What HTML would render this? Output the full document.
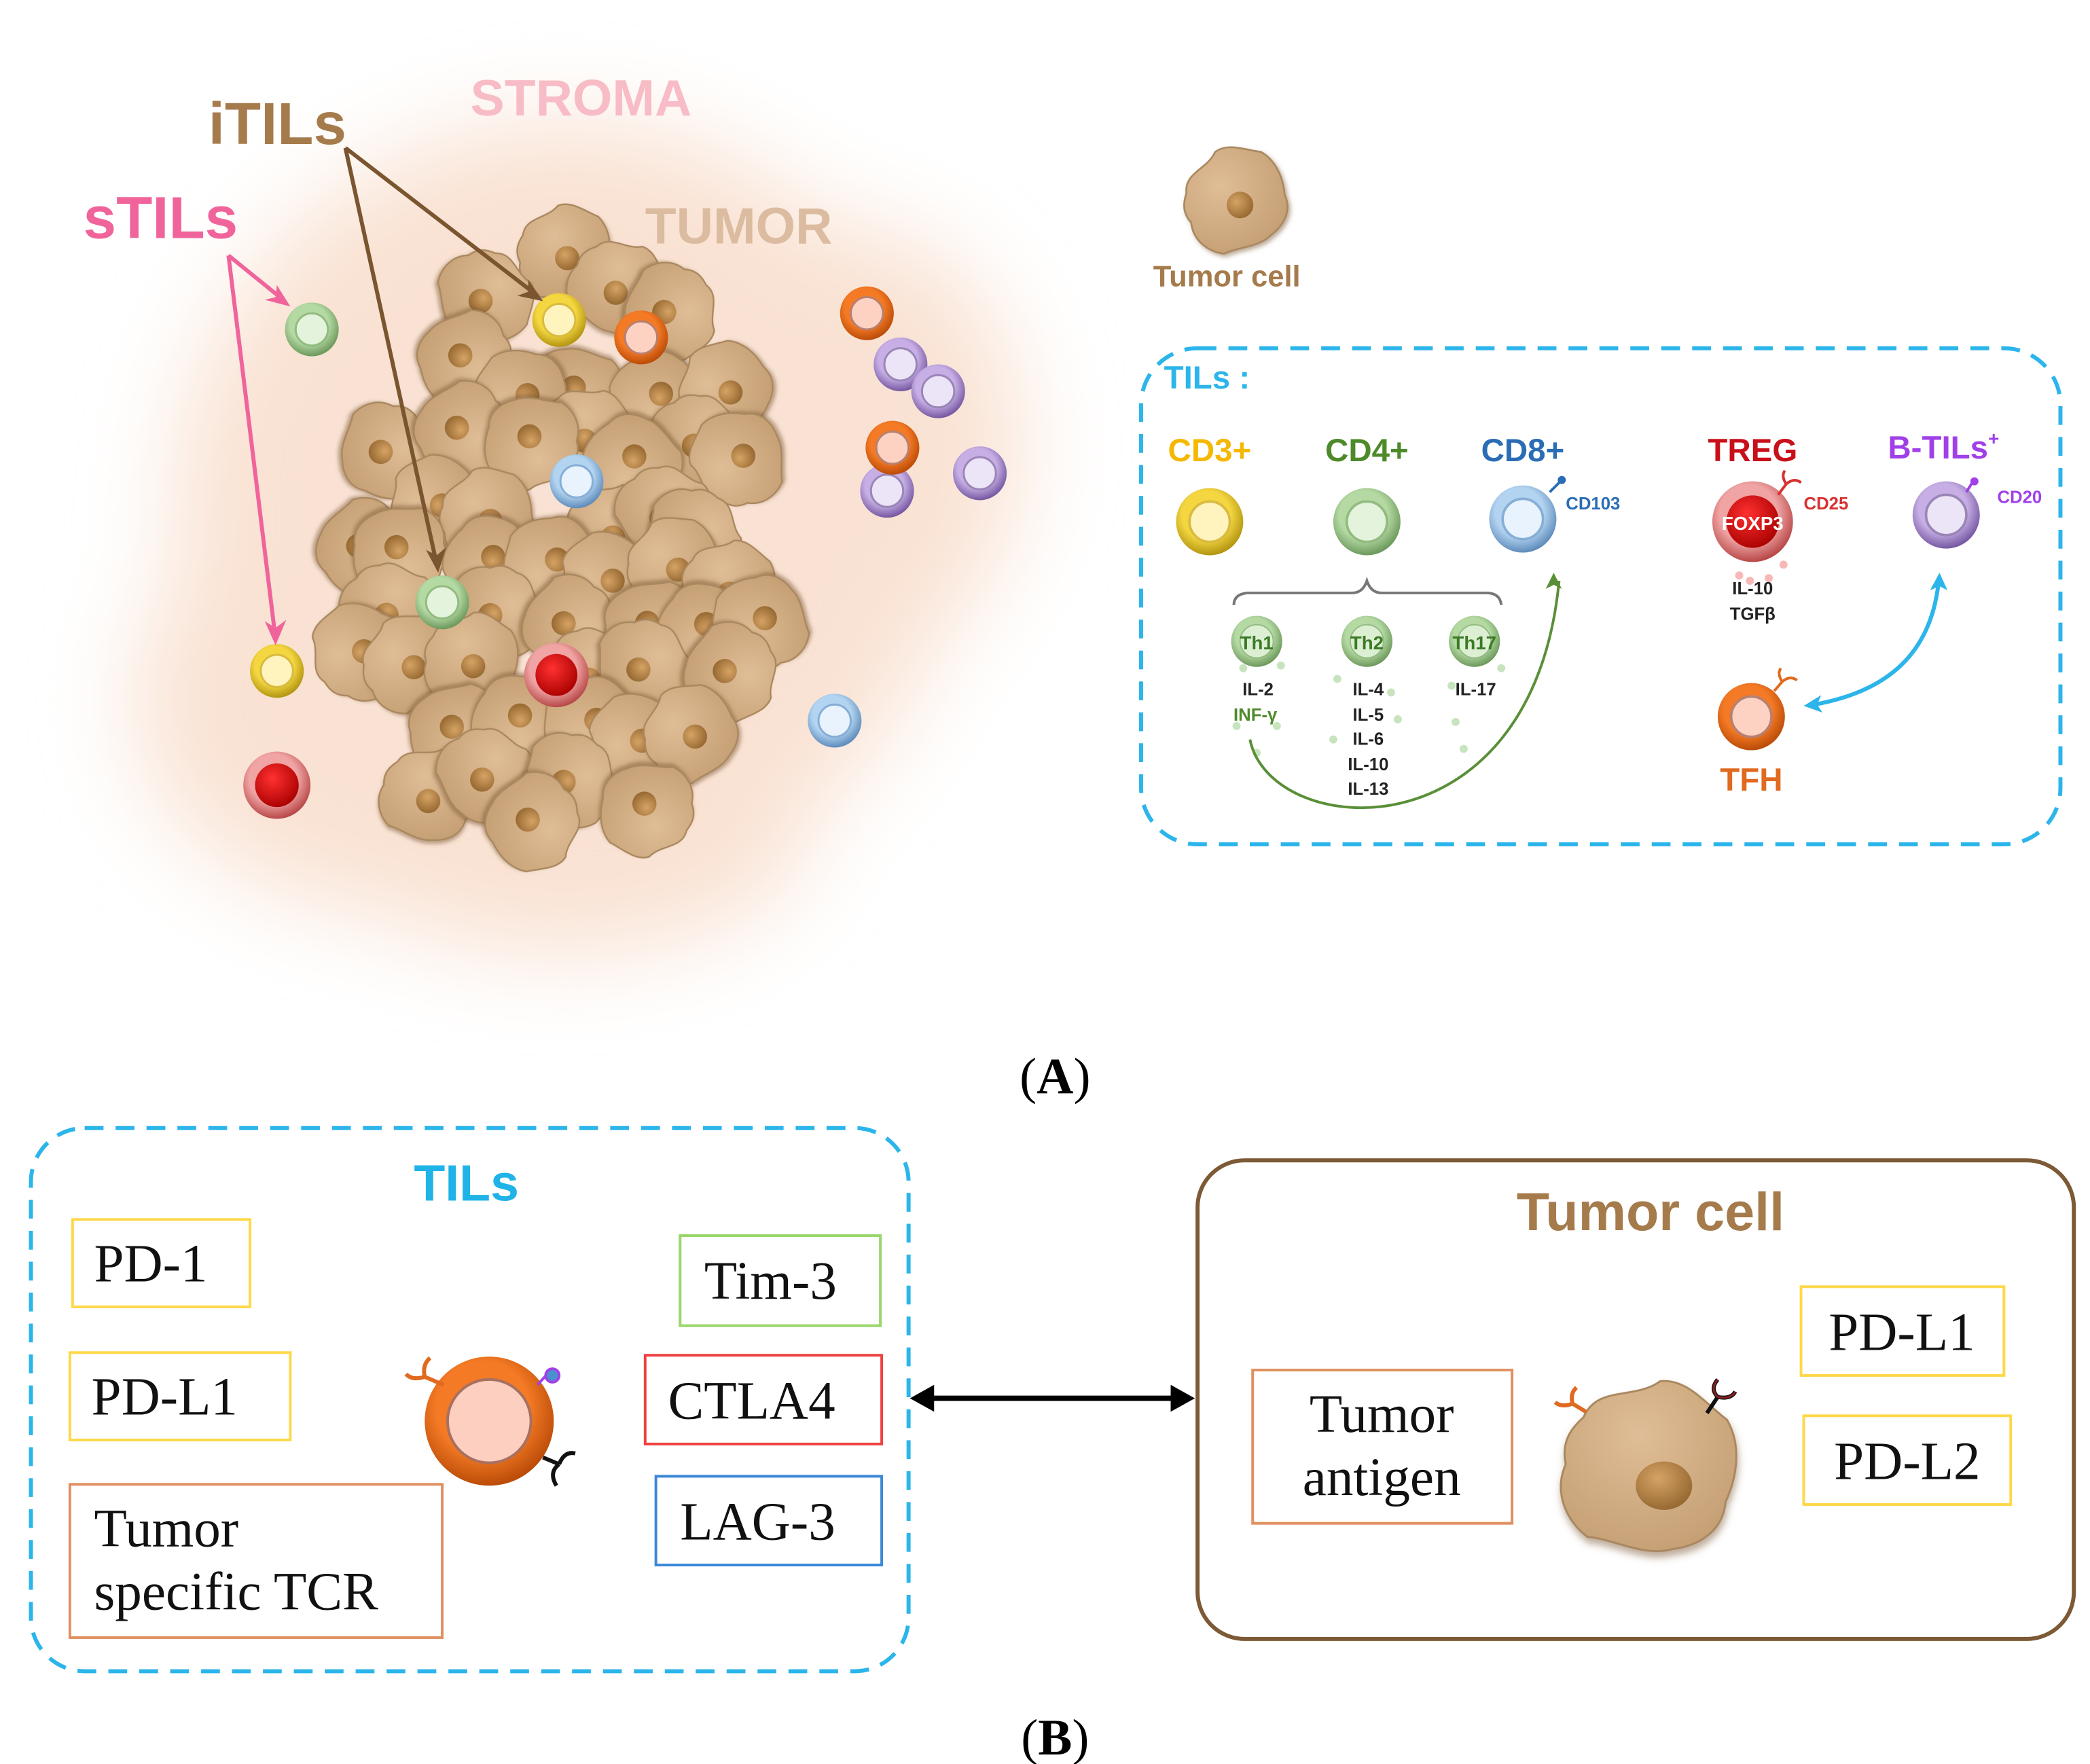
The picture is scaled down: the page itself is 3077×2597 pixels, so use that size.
<!DOCTYPE html>
<html><head><meta charset="utf-8"><style>
html,body{margin:0;padding:0;background:#fff;}
svg{display:block;}
.sans{font-family:"Liberation Sans Narrow","Liberation Sans",sans-serif;font-weight:bold;}
.ser{font-family:"Liberation Serif",serif;}
</style></head><body>
<svg width="3077" height="2597" viewBox="0 0 1555 1312" preserveAspectRatio="none" xmlns="http://www.w3.org/2000/svg">
<defs>
<filter id="blur" x="-50%" y="-50%" width="200%" height="200%"><feGaussianBlur stdDeviation="35"/></filter>
<filter id="sh" x="-30%" y="-30%" width="160%" height="160%"><feDropShadow dx="1" dy="2" stdDeviation="1.5" flood-color="#7a5530" flood-opacity="0.5"/></filter>
<radialGradient id="tc" cx="40%" cy="35%" r="70%"><stop offset="0" stop-color="#dfbd96"/><stop offset="1" stop-color="#c6a075"/></radialGradient>
<radialGradient id="nu" cx="40%" cy="35%" r="70%"><stop offset="0" stop-color="#d6a365"/><stop offset="1" stop-color="#93662f"/></radialGradient>
<radialGradient id="gY" cx="45%" cy="40%" r="60%"><stop offset="0.6" stop-color="#f3d640"/><stop offset="1" stop-color="#b39512"/></radialGradient>
<radialGradient id="gG" cx="45%" cy="40%" r="60%"><stop offset="0.6" stop-color="#b4d9a3"/><stop offset="1" stop-color="#6d995c"/></radialGradient>
<radialGradient id="gB" cx="45%" cy="40%" r="60%"><stop offset="0.6" stop-color="#b3d4f1"/><stop offset="1" stop-color="#5f8cbb"/></radialGradient>
<radialGradient id="gO" cx="45%" cy="40%" r="60%"><stop offset="0.6" stop-color="#f47a25"/><stop offset="1" stop-color="#bb4c08"/></radialGradient>
<radialGradient id="gP" cx="45%" cy="40%" r="60%"><stop offset="0.6" stop-color="#c7afe5"/><stop offset="1" stop-color="#7658a2"/></radialGradient>
<radialGradient id="gR" cx="45%" cy="40%" r="60%"><stop offset="0.6" stop-color="#f0a4a4"/><stop offset="1" stop-color="#b84848"/></radialGradient>
<radialGradient id="gRi" cx="40%" cy="35%" r="70%"><stop offset="0" stop-color="#ff3030"/><stop offset="1" stop-color="#a80000"/></radialGradient>
<g id="tcell" filter="url(#sh)">
<path d="M-30,-12 C-28,-26 -12,-24 -4,-34 C6,-38 16,-30 26,-26 C34,-18 36,-6 34,6 C36,18 28,26 18,30 C8,36 -6,32 -16,34 C-26,30 -34,20 -32,8 C-36,0 -34,-6 -30,-12Z" fill="url(#tc)" stroke="#a9875f" stroke-width="1.2"/>
<circle cx="3" cy="5" r="9" fill="url(#nu)"/>
</g>
<g id="cY"><circle r="20" fill="url(#gY)"/><circle r="12" fill="#fff4bd" stroke="#d8bb40" stroke-width="1.5"/></g>
<g id="cG"><circle r="20" fill="url(#gG)"/><circle r="12" fill="#e4f3dc" stroke="#92bb80" stroke-width="1.5"/></g>
<g id="cB"><circle r="20" fill="url(#gB)"/><circle r="12" fill="#e8f3fd" stroke="#86aed6" stroke-width="1.5"/></g>
<g id="cO"><circle r="20" fill="url(#gO)"/><circle r="12" fill="#fdd2c3" stroke="#b88070" stroke-width="1.5"/></g>
<g id="cP"><circle r="20" fill="url(#gP)"/><circle r="12" fill="#ece4f7" stroke="#9a86b6" stroke-width="1.5"/></g>
<g id="cR"><circle r="20" fill="url(#gR)"/><circle r="13" fill="url(#gRi)"/></g>
</defs>

<g filter="url(#blur)" fill="#f9e2d3">
<ellipse cx="420" cy="380" rx="290" ry="290"/>
<ellipse cx="300" cy="520" rx="200" ry="160"/>
<ellipse cx="640" cy="330" rx="120" ry="160"/>
<ellipse cx="420" cy="620" rx="180" ry="90"/>
</g>

<g>
<use href="#tcell" transform="translate(419,187)"/>
<use href="#tcell" transform="translate(459,212) rotate(40)"/>
<use href="#tcell" transform="translate(362,220) rotate(80)"/>
<use href="#tcell" transform="translate(500,232) rotate(120)"/>
<use href="#tcell" transform="translate(347,268) rotate(160)"/>
<use href="#tcell" transform="translate(428,294) rotate(200)"/>
<use href="#tcell" transform="translate(489,298) rotate(240)"/>
<use href="#tcell" transform="translate(387,296) rotate(280)"/>
<use href="#tcell" transform="translate(538,290) rotate(320)"/>
<use href="#tcell" transform="translate(435,322) rotate(30)"/>
<use href="#tcell" transform="translate(520,327) rotate(70)"/>
<use href="#tcell" transform="translate(289,335) rotate(110)"/>
<use href="#tcell" transform="translate(345,321) rotate(150)"/>
<use href="#tcell" transform="translate(396,330) rotate(190)"/>
<use href="#tcell" transform="translate(470,345) rotate(230)"/>
<use href="#tcell" transform="translate(548,342) rotate(270)"/>
<use href="#tcell" transform="translate(323,375) rotate(310)"/>
<use href="#tcell" transform="translate(361,383) rotate(350)"/>
<use href="#tcell" transform="translate(455,394) rotate(20)"/>
<use href="#tcell" transform="translate(495,380) rotate(60)"/>
<use href="#tcell" transform="translate(517,398) rotate(100)"/>
<use href="#tcell" transform="translate(272,408) rotate(140)"/>
<use href="#tcell" transform="translate(298,412) rotate(180)"/>
<use href="#tcell" transform="translate(366,420) rotate(220)"/>
<use href="#tcell" transform="translate(410,420) rotate(260)"/>
<use href="#tcell" transform="translate(450,432) rotate(300)"/>
<use href="#tcell" transform="translate(500,420) rotate(340)"/>
<use href="#tcell" transform="translate(541,436) rotate(15)"/>
<use href="#tcell" transform="translate(290,452) rotate(55)"/>
<use href="#tcell" transform="translate(370,455) rotate(95)"/>
<use href="#tcell" transform="translate(425,465) rotate(135)"/>
<use href="#tcell" transform="translate(485,468) rotate(175)"/>
<use href="#tcell" transform="translate(525,470) rotate(215)"/>
<use href="#tcell" transform="translate(565,464) rotate(255)"/>
<use href="#tcell" transform="translate(265,485) rotate(295)"/>
<use href="#tcell" transform="translate(303,493) rotate(335)"/>
<use href="#tcell" transform="translate(350,490) rotate(10)"/>
<use href="#tcell" transform="translate(440,500) rotate(50)"/>
<use href="#tcell" transform="translate(480,495) rotate(90)"/>
<use href="#tcell" transform="translate(545,500) rotate(130)"/>
<use href="#tcell" transform="translate(340,545) rotate(170)"/>
<use href="#tcell" transform="translate(387,538) rotate(210)"/>
<use href="#tcell" transform="translate(440,540) rotate(250)"/>
<use href="#tcell" transform="translate(472,552) rotate(290)"/>
<use href="#tcell" transform="translate(512,545) rotate(330)"/>
<use href="#tcell" transform="translate(318,590) rotate(25)"/>
<use href="#tcell" transform="translate(362,575) rotate(65)"/>
<use href="#tcell" transform="translate(425,580) rotate(105)"/>
<use href="#tcell" transform="translate(398,612) rotate(145)"/>
<use href="#tcell" transform="translate(482,603) rotate(185)"/>
</g>

<use href="#cG" transform="translate(232,245)"/>
<use href="#cY" transform="translate(416,238)"/>
<use href="#cO" transform="translate(477,251)"/>
<use href="#cB" transform="translate(429,358)"/>
<use href="#cG" transform="translate(329,448)"/>
<use href="#cR" transform="translate(414,502) scale(1.2)"/>
<use href="#cY" transform="translate(206,499)"/>
<use href="#cR" transform="translate(206,584) scale(1.25)"/>
<use href="#cO" transform="translate(645,233)"/>
<use href="#cP" transform="translate(670,271)"/>
<use href="#cP" transform="translate(698,291)"/>
<use href="#cP" transform="translate(660,365)"/>
<use href="#cO" transform="translate(664,333)"/>
<use href="#cP" transform="translate(729,352)"/>
<use href="#cB" transform="translate(621,536)"/>

<text x="350" y="86" font-size="38" fill="#f7bcc5" style="font-family:'Liberation Sans',sans-serif;font-weight:bold">STROMA</text>
<text x="155" y="107" font-size="44" fill="#a57b4c" style="font-family:'Liberation Sans',sans-serif;font-weight:bold">iTILs</text>
<text x="62" y="177" font-size="44" fill="#f0649b" style="font-family:'Liberation Sans',sans-serif;font-weight:bold">sTILs</text>
<text x="480" y="181" font-size="38" fill="#dcbca0" style="font-family:'Liberation Sans',sans-serif;font-weight:bold">TUMOR</text>

<g stroke="#f0649b" stroke-width="3" fill="none">
<line x1="170" y1="190" x2="205" y2="475"/>
<line x1="170" y1="190" x2="212" y2="224"/>
</g>
<path d="M205,480 l-8,-18 l8,5 l8,-6z" fill="#f0649b"/>
<path d="M216,228 l-19,-5 l8,-2 l1,-9z" fill="#f0649b"/>
<g stroke="#7a5530" stroke-width="3" fill="none">
<line x1="257" y1="110" x2="400" y2="220"/>
<line x1="257" y1="110" x2="325" y2="420"/>
</g>
<path d="M404,224 l-19,-4 l8,-3 l0,-9z" fill="#7a5530"/>
<path d="M326,426 l-9,-17 l8,4 l7,-6z" fill="#7a5530"/>

<use href="#tcell" transform="translate(918,148) scale(1.1) rotate(-15)"/>
<text x="858" y="213" font-size="22" fill="#a57b4c" style="font-family:'Liberation Sans',sans-serif;font-weight:bold">Tumor cell</text>

<rect x="849" y="259" width="684" height="369" rx="42" fill="none" stroke="#2bb5ea" stroke-width="3" stroke-dasharray="14 9"/>
<text x="866" y="289" font-size="24" fill="#2bb5ea" class="sans">TILs :</text>
<text x="900" y="343" text-anchor="middle" font-size="24" fill="#f5b800" class="sans">CD3+</text>
<text x="1017" y="343" text-anchor="middle" font-size="24" fill="#4e8a2a" class="sans">CD4+</text>
<text x="1133" y="343" text-anchor="middle" font-size="24" fill="#2a6db5" class="sans">CD8+</text>
<text x="1304" y="343" text-anchor="middle" font-size="24" fill="#c8101a" class="sans">TREG</text>
<text x="1446" y="341" text-anchor="middle" font-size="24" fill="#a040e8" class="sans">B-TILs<tspan font-size="14" dy="-10">+</tspan></text>

<use href="#cY" transform="translate(900,388) scale(1.25)"/>
<use href="#cG" transform="translate(1017,388) scale(1.25)"/>
<use href="#cB" transform="translate(1133,386) scale(1.25)"/>
<path d="M1153,366 l8,-8" stroke="#2a6db5" stroke-width="2"/><circle cx="1162" cy="357" r="3" fill="#2a6db5"/>
<text x="1165" y="379" font-size="13" fill="#2a6db5" class="sans">CD103</text>
<g transform="translate(1304,388) scale(1.5)"><circle r="20" fill="url(#gR)"/><circle r="13" fill="url(#gRi)"/></g>
<text x="1304" y="394" text-anchor="middle" font-size="14" fill="#fff" class="sans">FOXP3</text>
<path d="M1323,368 l6,-8 m0,0 q-4,-6 -1,-10 m1,10 q6,-5 11,-1" stroke="#d83030" stroke-width="2" fill="none"/>
<text x="1342" y="379" font-size="13" fill="#d83030" class="sans">CD25</text>
<g fill="#f7b8b8"><circle cx="1294" cy="428" r="3"/><circle cx="1316" cy="430" r="3"/><circle cx="1327" cy="420" r="3"/><circle cx="1302" cy="432" r="3"/></g>
<text x="1304" y="442" text-anchor="middle" font-size="13" fill="#222" class="sans">IL-10</text>
<text x="1304" y="461" text-anchor="middle" font-size="13" fill="#222" class="sans">TGFβ</text>
<use href="#cP" transform="translate(1448,383) scale(1.25)"/>
<path d="M1463,366 l5,-8" stroke="#a040e8" stroke-width="2"/><circle cx="1469" cy="358" r="3" fill="#a040e8"/>
<text x="1486" y="374" font-size="13" fill="#a040e8" class="sans">CD20</text>

<path d="M918,450 q0,-8 10,-9 l78,0 q8,0 11,-9 q3,9 11,9 l78,0 q10,0 11,9" stroke="#777" stroke-width="2" fill="none"/>
<g fill="#c8e4bf">
<circle cx="925" cy="497" r="3"/><circle cx="953" cy="495" r="3"/><circle cx="920" cy="540" r="3"/><circle cx="950" cy="540" r="3"/><circle cx="935" cy="560" r="3"/>
<circle cx="995" cy="505" r="3"/><circle cx="1035" cy="515" r="3"/><circle cx="992" cy="550" r="3"/><circle cx="1040" cy="535" r="3"/>
<circle cx="1080" cy="510" r="3"/><circle cx="1117" cy="497" r="3"/><circle cx="1083" cy="537" r="3"/><circle cx="1089" cy="557" r="3"/>
</g>
<g transform="translate(935,477) scale(0.95)"><circle r="20" fill="url(#gG)"/><circle r="13" fill="#dcefd3" stroke="#92bb80"/></g>
<g transform="translate(1017,477) scale(0.95)"><circle r="20" fill="url(#gG)"/><circle r="13" fill="#dcefd3" stroke="#92bb80"/></g>
<g transform="translate(1097,477) scale(0.95)"><circle r="20" fill="url(#gG)"/><circle r="13" fill="#dcefd3" stroke="#92bb80"/></g>
<text x="935" y="483" text-anchor="middle" font-size="14" fill="#3c7a26" class="sans">Th1</text>
<text x="1017" y="483" text-anchor="middle" font-size="14" fill="#3c7a26" class="sans">Th2</text>
<text x="1097" y="483" text-anchor="middle" font-size="14" fill="#3c7a26" class="sans">Th17</text>
<g font-size="13" fill="#222" class="sans" text-anchor="middle">
<text x="936" y="517">IL-2</text>
<text x="934" y="536" fill="#4e8a2a">INF-γ</text>
<text x="1018" y="517">IL-4</text><text x="1018" y="536">IL-5</text><text x="1018" y="554">IL-6</text><text x="1018" y="573">IL-10</text><text x="1018" y="591">IL-13</text>
<text x="1098" y="517">IL-17</text>
</g>
<path d="M930,550 C945,625 1140,640 1160,432" stroke="#5a8f38" stroke-width="2" fill="none"/>
<path d="M1156,426 l-6,12 l6,-3 l6,3z" fill="#5a8f38"/>

<use href="#cO" transform="translate(1303,533) scale(1.25)"/>
<path d="M1320,514 l6,-7 m0,0 q-4,-6 -1,-10 m1,10 q6,-5 11,-1" stroke="#e06a20" stroke-width="2" fill="none"/>
<text x="1303" y="588" text-anchor="middle" font-size="24" fill="#e06a20" class="sans">TFH</text>
<path d="M1442,436 C1435,490 1400,515 1350,524" stroke="#2bb5ea" stroke-width="3" fill="none"/>
<path d="M1443,426 l-7,13 l7,-3 l6,3z" fill="#2bb5ea"/>
<path d="M1342,525 l13,-8 l-3,7 l4,6z" fill="#2bb5ea"/>

<text x="785" y="813" text-anchor="middle" font-size="38" class="ser" fill="#000">(<tspan font-weight="bold">A</tspan>)</text>
<text x="785" y="1305" text-anchor="middle" font-size="38" class="ser" fill="#000">(<tspan font-weight="bold">B</tspan>)</text>

<rect x="23" y="839" width="653" height="404" rx="40" fill="none" stroke="#2bb5ea" stroke-width="3" stroke-dasharray="14 9"/>
<text x="347" y="893" text-anchor="middle" font-size="38" fill="#1fb3e8" class="sans">TILs</text>
<g class="ser" font-size="40" fill="#111">
<rect x="54" y="907" width="132" height="65" fill="none" stroke="#ffd84a" stroke-width="2"/>
<text x="70" y="953">PD-1</text>
<rect x="52" y="1006" width="164" height="65" fill="none" stroke="#ffd84a" stroke-width="2"/>
<text x="68" y="1052">PD-L1</text>
<rect x="52" y="1104" width="277" height="114" fill="none" stroke="#e09060" stroke-width="2"/>
<text x="70" y="1150">Tumor</text>
<text x="70" y="1197">specific TCR</text>
<rect x="506" y="919" width="149" height="67" fill="none" stroke="#9ad66a" stroke-width="2"/>
<text x="524" y="966">Tim-3</text>
<rect x="480" y="1008" width="176" height="66" fill="none" stroke="#f04040" stroke-width="2"/>
<text x="497" y="1055">CTLA4</text>
<rect x="488" y="1098" width="168" height="66" fill="none" stroke="#3a88d8" stroke-width="2"/>
<text x="506" y="1145">LAG-3</text>
</g>
<g transform="translate(364,1057)"><circle r="48" fill="url(#gO)"/><circle r="31" fill="#fdcfc0" stroke="#a87060" stroke-width="2"/></g>
<path d="M330,1030 l-14,-6 m0,0 q-2,-9 4,-14 m-4,14 q-9,3 -14,-2" stroke="#e06a20" stroke-width="3" fill="none"/>
<path d="M400,1030 l8,-9" stroke="#a040e8" stroke-width="2"/><circle cx="411" cy="1023" r="5" fill="#4a90d0" stroke="#a040e8" stroke-width="2"/>
<path d="M404,1084 l12,5 m0,0 q-8,6 -2,16 m2,-16 q4,-10 12,-8" stroke="#111" stroke-width="3" fill="none"/>

<line x1="690" y1="1040" x2="876" y2="1040" stroke="#000" stroke-width="4"/>
<path d="M677,1040 l18,-10 l0,20z" fill="#000"/>
<path d="M889,1040 l-18,-10 l0,20z" fill="#000"/>

<rect x="891" y="863" width="652" height="356" rx="35" fill="none" stroke="#7d5a36" stroke-width="3"/>
<text x="1228" y="915" text-anchor="middle" font-size="40" fill="#a57b4c" class="sans">Tumor cell</text>
<g class="ser" font-size="40" fill="#111">
<rect x="932" y="1019" width="193" height="114" fill="none" stroke="#e09060" stroke-width="2"/>
<text x="1028" y="1065" text-anchor="middle">Tumor</text>
<text x="1028" y="1112" text-anchor="middle">antigen</text>
<rect x="1340" y="957" width="151" height="66" fill="none" stroke="#ffd84a" stroke-width="2"/>
<text x="1415" y="1004" text-anchor="middle">PD-L1</text>
<rect x="1342" y="1053" width="154" height="66" fill="none" stroke="#ffd84a" stroke-width="2"/>
<text x="1419" y="1100" text-anchor="middle">PD-L2</text>
</g>
<g transform="translate(1226,1090) scale(1.85) rotate(15)" filter="url(#sh)">
<path d="M-30,-12 C-28,-26 -12,-24 -4,-34 C6,-38 16,-30 26,-26 C34,-18 36,-6 34,6 C36,18 28,26 18,30 C8,36 -6,32 -16,34 C-26,30 -34,20 -32,8 C-36,0 -34,-6 -30,-12Z" fill="url(#tc)" stroke="#a9875f" stroke-width="0.8"/>
</g>
<ellipse cx="1238" cy="1105" rx="21" ry="18" fill="url(#nu)"/>
<path d="M1180,1050 l-10,-6 m0,0 q-2,-8 3,-12 m-3,12 q-8,3 -13,-1" stroke="#e06a20" stroke-width="3" fill="none"/>
<path d="M1270,1051 l8,-12 m0,0 q-6,-6 0,-13 m0,13 q10,2 13,-4" stroke="#111" stroke-width="3" fill="none"/>
<path d="M1278,1039 q-6,-6 0,-13 m0,13 q10,2 13,-4" stroke="#8a2020" stroke-width="1.5" fill="none"/>
</svg>
</body></html>
